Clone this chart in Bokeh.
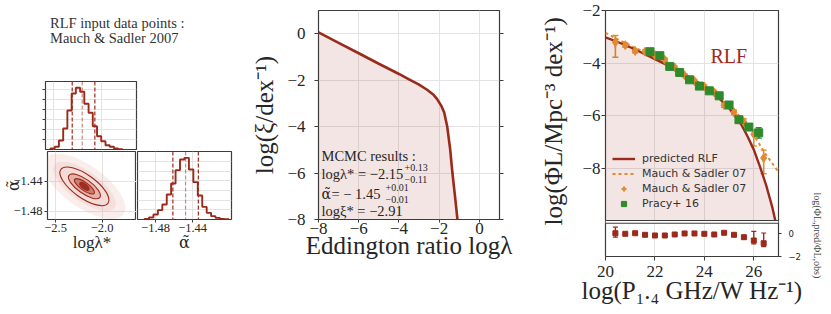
import math
from bokeh.plotting import figure
from bokeh.models import (Range1d, FixedTicker, LinearAxis, Label, Span, BoxAnnotation,
                          Legend, LegendItem, ColumnDataSource, Whisker, TeeHead, Title,
                          CustomJSTickFormatter, Div, CDSView, IndexFilter)
from bokeh.layouts import row, column
from bokeh.embed import file_html
from bokeh.resources import INLINE

# ---------------- corner plot data (MCMC posterior) ----------------
lam_edges = [-2.535, -2.490, -2.446, -2.401, -2.357, -2.312, -2.268, -2.223, -2.179,
             -2.134, -2.090, -2.045, -2.001, -1.956, -1.912, -1.867, -1.823, -1.778]
lam_counts = [10, 27, 90, 210, 390, 560, 617, 577, 457, 367, 233, 133, 83, 43, 27, 10, 3]
lam_quantiles = [-2.306, -2.201, -2.068]
alpha_edges = [-1.4919, -1.4871, -1.4823, -1.4775, -1.4727, -1.4679, -1.4632, -1.4584,
               -1.4536, -1.4488, -1.4440, -1.4392, -1.4344, -1.4296, -1.4248, -1.4200,
               -1.4153, -1.4105, -1.4057, -1.4009]
alpha_counts = [2, 6, 15, 28, 45, 75, 108, 148, 180, 185, 150, 112, 72, 38, 20, 10, 5, 2, 1]
alpha_quantiles = [-1.4613, -1.4476, -1.4338]
post_lam = [-2.19]
post_alpha = [-1.4465]
lam_ticks = [-2.5, -2.0]
alpha_ticks = [-1.48, -1.44]
lam_hist_ticks = [100, 200, 300, 400, 500, 600]
alpha_hist_ticks = [29, 58, 87, 116, 145, 174]

# ---------------- Eddington ratio distribution ----------------
edd_x = [-8, -7, -6, -5, -4, -3.5, -3, -2.6, -2.3, -2.1, -1.9, -1.75, -1.6, -1.45, -1.34, -1.2, -1.09]
edd_y = [0.05, -0.40, -0.85, -1.30, -1.74, -1.97, -2.20, -2.42, -2.62, -2.82, -3.10, -3.40,
         -4.00, -5.00, -6.00, -7.10, -8.0]
edd_xticks = [-8, -6, -4, -2, 0]
edd_yticks = [0, -2, -4, -6, -8]

# ---------------- radio luminosity function ----------------
rlf_x = [20.0, 20.5, 21.0, 21.5, 22.0, 22.5, 23.0, 23.5, 24.0, 24.5, 25.0, 25.5, 25.75,
         26.0, 26.25, 26.5, 26.75, 26.87]
rlf_y = [-3.02, -3.2, -3.4, -3.62, -3.85, -4.08, -4.33, -4.6, -4.9, -5.25, -5.72, -6.35, -6.8,
         -7.3, -7.95, -8.65, -9.5, -10.0]
fit_x = [20.0, 20.5, 21.0, 21.5, 22.0, 22.5, 23.0, 23.5, 24.0, 24.5, 25.0, 25.5, 26.0, 26.5, 27.0]
fit_y = [-2.85, -3.1, -3.33, -3.55, -3.8, -4.05, -4.3, -4.58, -4.88, -5.2, -5.6, -6.1, -6.75, -7.5, -8.15]
ms_x = [20.4, 20.8, 21.2, 21.6, 22.0, 22.4, 22.8, 23.2, 23.6, 24.0, 24.4, 24.8, 25.2, 25.6, 26.0, 26.4]
ms_y = [-3.21, -3.32, -3.54, -3.57, -3.70, -3.88, -4.17, -4.47, -4.69, -4.90, -5.12, -5.61,
        -5.88, -6.25, -6.71, -7.62]
ms_err_up = [0.26, 0.08, 0.07, 0.07, 0.06, 0.06, 0.06, 0.06, 0.06, 0.06, 0.07, 0.08, 0.08, 0.12, 0.15, 0.3]
ms_err_dn = [0.57, 0.08, 0.07, 0.07, 0.06, 0.06, 0.06, 0.06, 0.06, 0.06, 0.07, 0.08, 0.08, 0.15, 0.45, 0.6]
pr_x = [21.8, 22.2, 22.6, 23.0, 23.4, 23.8, 24.2, 24.6, 25.0, 25.4, 25.8, 26.2]
pr_y = [-3.57, -3.72, -4.13, -4.36, -4.64, -4.88, -5.06, -5.25, -5.6, -6.16, -6.44, -6.66]
pr_err = [0.04, 0.04, 0.04, 0.04, 0.04, 0.04, 0.04, 0.05, 0.05, 0.06, 0.08, 0.2]
res_y = [0.05, 0.0, 0.05, -0.09, -0.15, -0.15, -0.06, 0.03, 0.03, 0.0, -0.06, 0.09, -0.09,
         -0.30, -0.59, -0.83]
res_err_up = [0.53, 0.06, 0.06, 0.05, 0.05, 0.05, 0.05, 0.05, 0.05, 0.05, 0.05, 0.06, 0.06, 0.12, 0.8, 0.9]
res_err_dn = [0.35, 0.06, 0.06, 0.05, 0.05, 0.05, 0.05, 0.05, 0.05, 0.05, 0.05, 0.06, 0.06, 0.12, 0.3, 0.3]
rlf_xticks = [20, 22, 24, 26]
rlf_yticks = [-2, -4, -6, -8]
res_yticks = [0, -2]

# ---------------- styles ----------------
RED = "#9b2a1b"
ORANGE = "#e08b33"
GREEN = "#2f8a2b"
GRID = "#e3e3e3"
FRAME = "#3c3c3c"
TXT = "#262626"
SERIF = "Liberation Serif"
GREEKSERIF = "DejaVu Serif"
SANS = "DejaVu Sans"
ALPHA_T = "α\u0303"


def minus_fmt(dec):
    return CustomJSTickFormatter(code=(
        "const s = Math.abs(tick).toFixed(%d);"
        "return (tick < 0 ? '\\u2212' : '') + s;" % dec))


def blank_fmt():
    return CustomJSTickFormatter(code="return '';")


def make_fig(w, h, xr, yr, borders, **kw):
    l, r, t, b = borders
    p = figure(width=w, height=h, x_range=xr, y_range=yr, output_backend="svg",
               toolbar_location=None, title=None, min_border_left=l, min_border_right=r,
               min_border_top=t, min_border_bottom=b, **kw)
    p.outline_line_color = FRAME
    p.outline_line_width = 1.2
    p.background_fill_color = "white"
    p.border_fill_color = "white"
    for g in p.grid:
        g.grid_line_color = GRID
        g.grid_line_width = 1
    return p


def style_axis(ax, size, font=SERIF, tick_out=3, standoff=2, color=TXT):
    ax.axis_line_color = None
    ax.major_tick_line_color = FRAME
    ax.major_tick_out = tick_out
    ax.major_tick_in = 0
    ax.minor_tick_line_color = None
    ax.major_label_text_font = font
    ax.major_label_text_font_size = "%gpx" % size
    ax.major_label_text_color = color
    ax.major_label_standoff = standoff


def axis_label(ax, text, size, standoff, font=SERIF):
    ax.axis_label = text
    ax.axis_label_text_font = font
    ax.axis_label_text_font_size = "%gpx" % size
    ax.axis_label_text_font_style = "normal"
    ax.axis_label_text_color = TXT
    ax.axis_label_standoff = standoff


def txt(p, x, y, dx, dy, text, size, color=TXT, font=SERIF, align="left",
        baseline="middle", angle=0.0, style="normal", y_range_name="default"):
    p.add_layout(Label(x=x, y=y, x_offset=dx, y_offset=dy, text=text, text_font=font,
                       text_font_size="%gpx" % size, text_color=color, text_align=align,
                       text_baseline=baseline, angle=angle, text_font_style=style,
                       y_range_name=y_range_name))


def step_path(edges, counts):
    xs, ys = [edges[0]], [0]
    for i, c in enumerate(counts):
        xs += [edges[i], edges[i + 1]]
        ys += [c, c]
    xs.append(edges[-1])
    ys.append(0)
    return xs, ys


# ================= corner: caption + top histogram =================
caption = Div(width=248, height=50, margin=0, text=(
    '<div style="font-family:\'Liberation Serif\';font-size:14.5px;line-height:15px;'
    'color:#333333;padding:16px 0 0 50px;white-space:nowrap;">'
    'RLF input data points :<br>Mauch &amp; Sadler 2007</div>'))

LAM_RANGE = (-2.587, -1.63)
top = make_fig(140, 100, Range1d(*LAM_RANGE), Range1d(0, 680), (45, 4, 31, 1),
               x_axis_location=None)
hx, hy = step_path(lam_edges, lam_counts)
top.line(hx, hy, line_color=RED, line_width=1.9)
for q, a in zip(lam_quantiles, [1.0, 0.55, 1.0]):
    top.add_layout(Span(location=q, dimension="height", line_color=RED, line_width=1.2,
                        line_dash="4 2", line_alpha=a))
top.yaxis.ticker = FixedTicker(ticks=lam_hist_ticks)
top.yaxis.formatter = blank_fmt()
style_axis(top.yaxis[0], 10, tick_out=3, standoff=0)
top.xgrid.ticker = FixedTicker(ticks=lam_ticks)

# ================= corner: 2D posterior =================
ALPHA_RANGE_SC = (-1.4907, -1.40)
sc = make_fig(136, 164, Range1d(*LAM_RANGE), Range1d(*ALPHA_RANGE_SC), (45, 0, 1, 95))
sc.ellipse(x=post_lam * 2, y=post_alpha * 2, width=[96, 74], height=[42, 30],
           angle=-0.62, width_units="screen", height_units="screen",
           fill_color="#d9948a", fill_alpha=0.16, line_color=None)
sc.ellipse(x=post_lam * 4, y=post_alpha * 4, width=[58, 38, 24, 11], height=[23, 14, 8, 5],
           angle=-0.62, width_units="screen", height_units="screen",
           fill_color=["#f2dad6", "#e3b0a7", "#c9786b", "#9b2a1b"], fill_alpha=0.95,
           line_color=RED, line_width=1.1)
sc.xaxis.ticker = FixedTicker(ticks=lam_ticks)
sc.xaxis.formatter = minus_fmt(1)
sc.yaxis.ticker = FixedTicker(ticks=alpha_ticks)
sc.yaxis.formatter = minus_fmt(2)
style_axis(sc.xaxis[0], 12.5, tick_out=3, standoff=1)
style_axis(sc.yaxis[0], 12.5, tick_out=3, standoff=2)
axis_label(sc.xaxis[0], "logλ*", 17, -2)
axis_label(sc.yaxis[0], ALPHA_T, 16, -12, font=GREEKSERIF)

# ================= corner: alpha histogram =================
ALPHA_RANGE_H = (-1.4995, -1.398)
ah = make_fig(112, 164, Range1d(*ALPHA_RANGE_H), Range1d(0, 204), (1, 17, 1, 95),
              y_axis_location=None)
ax_, ay_ = step_path(alpha_edges, alpha_counts)
ah.line(ax_, ay_, line_color=RED, line_width=1.9)
for q, a in zip(alpha_quantiles, [1.0, 0.55, 1.0]):
    ah.add_layout(Span(location=q, dimension="height", line_color=RED, line_width=1.2,
                       line_dash="4 2", line_alpha=a))
ah.xaxis.ticker = FixedTicker(ticks=alpha_ticks)
ah.xaxis.formatter = minus_fmt(2)
style_axis(ah.xaxis[0], 12.5, tick_out=3, standoff=1)
axis_label(ah.xaxis[0], ALPHA_T, 16, -2, font=GREEKSERIF)
ah.ygrid.ticker = FixedTicker(ticks=alpha_hist_ticks)

corner = column(caption, top, row(sc, ah))

# ================= middle: Eddington ratio distribution =================
mid = make_fig(277, 275, Range1d(-8, 1), Range1d(-8, 0.99), (66, 26, 10, 56))
mid.varea(x=edd_x, y1=-8, y2=edd_y, fill_color=RED, fill_alpha=0.12)
mid.line(edd_x, edd_y, line_color=RED, line_width=2.6)
mid.xaxis.ticker = FixedTicker(ticks=edd_xticks)
mid.yaxis.ticker = FixedTicker(ticks=edd_yticks)
mid.xaxis.formatter = minus_fmt(0)
mid.yaxis.formatter = minus_fmt(0)
style_axis(mid.xaxis[0], 17, tick_out=3, standoff=0)
style_axis(mid.yaxis[0], 17, tick_out=4, standoff=9)
axis_label(mid.xaxis[0], "Eddington ratio logλ", 25, -5)
axis_label(mid.yaxis[0], "log(ξ/dex\u207b\u00b9)", 25, 6)
mid_r = LinearAxis(ticker=FixedTicker(ticks=edd_yticks), formatter=blank_fmt())
style_axis(mid_r, 10, tick_out=4, standoff=0)
mid.add_layout(mid_r, "right")
A = (-8, 0.99)
txt(mid, *A, 3, -145, "MCMC results :", 14.5)
txt(mid, *A, 3, -163, "logλ* = \u22122.15", 14.5)
txt(mid, *A, 86, -157, "+0.13", 10)
txt(mid, *A, 86, -169, "\u22120.11", 10)
txt(mid, *A, 3, -183, ALPHA_T, 14, font=GREEKSERIF)
txt(mid, *A, 13, -183, "= \u2212 1.45", 14.5)
txt(mid, *A, 67, -177, "+0.01", 10)
txt(mid, *A, 67, -189, "\u22120.01", 10)
txt(mid, *A, 3, -200, "logξ* = \u22122.91", 14.5)

# ================= right: RLF with residual panel =================
rp = make_fig(306, 312, Range1d(20, 27), Range1d(-11.371, -2), (73, 50, 10, 56))
rp.extra_y_ranges = {"res": Range1d(-2, 19.67)}
rp.varea(x=rlf_x, y1=-10, y2=rlf_y, fill_color=RED, fill_alpha=0.12)
r_fit = rp.line(fit_x, fit_y, line_color=ORANGE, line_width=2.0, line_dash="3 3")
r_rlf = rp.line(rlf_x, rlf_y, line_color=RED, line_width=2.4)

ms_src = ColumnDataSource(dict(x=ms_x, y=ms_y,
                               up=[y + e for y, e in zip(ms_y, ms_err_up)],
                               lo=[y - e for y, e in zip(ms_y, ms_err_dn)]))
rp.add_layout(Whisker(base="x", upper="up", lower="lo", source=ms_src, dimension="height",
                      line_color=ORANGE, line_width=1.6,
                      upper_head=TeeHead(size=6, line_color=ORANGE, line_width=1.4),
                      lower_head=TeeHead(size=6, line_color=ORANGE, line_width=1.4)))
r_ms = rp.scatter("x", "y", source=ms_src, marker="diamond", size=9, fill_color=ORANGE,
                  line_color=ORANGE)
pr_src = ColumnDataSource(dict(x=pr_x, y=pr_y,
                               up=[y + e for y, e in zip(pr_y, pr_err)],
                               lo=[y - e for y, e in zip(pr_y, pr_err)]))
rp.add_layout(Whisker(base="x", upper="up", lower="lo", source=pr_src, dimension="height",
                      line_color=GREEN, line_width=1.6,
                      upper_head=TeeHead(size=6, line_color=GREEN, line_width=1.4),
                      lower_head=TeeHead(size=6, line_color=GREEN, line_width=1.4)))
r_pr = rp.scatter("x", "y", source=pr_src, marker="square", size=8, fill_color=GREEN,
                  line_color=GREEN)

res_src = ColumnDataSource(dict(x=ms_x, y=res_y,
                                up=[y + e for y, e in zip(res_y, res_err_up)],
                                lo=[y - e for y, e in zip(res_y, res_err_dn)]))
rp.add_layout(Whisker(base="x", upper="up", lower="lo", source=res_src, dimension="height",
                      y_range_name="res", line_color=RED, line_width=1.4,
                      upper_head=TeeHead(size=5, line_color=RED, line_width=1.2),
                      lower_head=TeeHead(size=5, line_color=RED, line_width=1.2)))
rp.scatter("x", "y", source=res_src, y_range_name="res", marker="square", size=5,
           fill_color=RED, line_color=RED)

# gap between the two panels
rp.add_layout(BoxAnnotation(bottom=0.93, top=1.177, y_range_name="res", fill_color="white",
                            fill_alpha=1.0, line_color=None))
rp.add_layout(Span(location=-10, dimension="width", line_color=FRAME, line_width=1.2))
rp.add_layout(Span(location=0.93, dimension="width", y_range_name="res", line_color=FRAME,
                   line_width=1.2))

# error-bar strokes for the legend: drawn on a single point, inside that point's own whisker
bar_ms = rp.scatter("x", "y", source=ms_src, view=CDSView(filter=IndexFilter(indices=[0])),
                    marker="dash", angle=math.pi / 2, size=12, line_color=ORANGE,
                    line_width=1.6)
bar_pr = rp.scatter("x", "y", source=pr_src,
                    view=CDSView(filter=IndexFilter(indices=[len(pr_x) - 1])),
                    marker="dash", angle=math.pi / 2, size=11, line_color=GREEN,
                    line_width=1.6)
legend = Legend(items=[
    LegendItem(label="predicted RLF", renderers=[r_rlf]),
    LegendItem(label="Mauch & Sadler 07", renderers=[r_fit]),
    LegendItem(label="Mauch & Sadler 07", renderers=[bar_ms, r_ms]),
    LegendItem(label="Pracy+ 16", renderers=[bar_pr, r_pr]),
], location=(4, 43), padding=3, margin=0, spacing=2, label_height=13, glyph_height=13,
    glyph_width=23, label_standoff=7, label_text_font=SANS, label_text_font_size="11px",
    label_text_color="#333333", background_fill_alpha=0, border_line_alpha=0)
rp.add_layout(legend)

rp.xaxis.ticker = FixedTicker(ticks=rlf_xticks)
rp.yaxis.ticker = FixedTicker(ticks=rlf_yticks)
rp.yaxis.formatter = minus_fmt(0)
style_axis(rp.xaxis[0], 17, tick_out=4, standoff=5)
style_axis(rp.yaxis[0], 17, tick_out=4, standoff=1)
axis_label(rp.xaxis[0], "log(P\u2081.\u2084 GHz/W Hz\u207b\u00b9)", 25, -3)
res_ax = LinearAxis(y_range_name="res", ticker=FixedTicker(ticks=res_yticks),
                    formatter=minus_fmt(0))
style_axis(res_ax, 8.5, font=SANS, tick_out=3, standoff=7)
rp.add_layout(res_ax, "right")

rp.add_layout(Title(text="log(ΦL/Mpc\u207b\u00b3 dex\u207b\u00b9)", align="left", offset=31,
                    standoff=25, text_font=SERIF, text_font_size="25px",
                    text_font_style="normal", text_color=TXT), "left")
rp.add_layout(Title(text="log(ΦL,pred/ΦL,obs)", align="left", offset=182, standoff=14,
                    text_font=SERIF, text_font_size="10px", text_font_style="normal",
                    text_color="#444444"), "right")

txt(rp, 20, -2, 105, -45, "RLF", 20, color=RED)

layout = row(corner, column(mid), column(rp))
open("out.html", "w").write(file_html(layout, INLINE))
